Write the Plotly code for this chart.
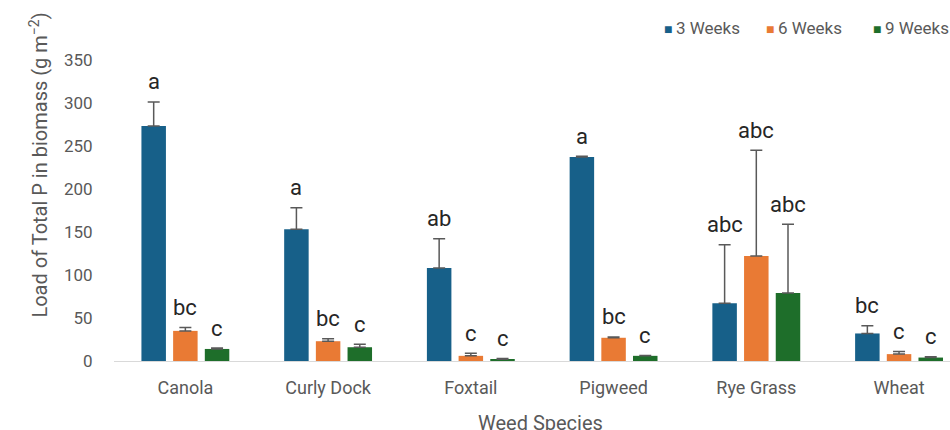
import plotly.graph_objects as go

# Weed species and total P load in biomass (g m^-2) at each harvest time
species = ["Canola", "Curly Dock", "Foxtail", "Pigweed", "Rye Grass", "Wheat"]

weeks3 = [273, 153, 108, 237, 67, 32]
weeks3_err = [28, 25, 34, 1, 68, 9]
weeks3_letters = ["a", "a", "ab", "a", "abc", "bc"]

weeks6 = [35, 23, 6, 27, 122, 8]
weeks6_err = [4, 3, 3, 1, 123, 3]
weeks6_letters = ["bc", "bc", "c", "bc", "abc", "c"]

weeks9 = [14, 16, 2, 6, 79, 4]
weeks9_err = [1, 3.5, 1, 0.5, 80, 1]
weeks9_letters = ["c", "c", "c", "c", "abc", "c"]

y_ticks = [0, 50, 100, 150, 200, 250, 300, 350]

series = [
    ("3 Weeks", weeks3, weeks3_err, weeks3_letters, "#176089"),
    ("6 Weeks", weeks6, weeks6_err, weeks6_letters, "#E97A34"),
    ("9 Weeks", weeks9, weeks9_err, weeks9_letters, "#1E6E2A"),
]

FONT = "Roboto"
TICK_GREY = "#595959"
BARGAP = 0.334
slot = (1 - BARGAP) / len(series)

fig = go.Figure()
annotations = []

for i, (name, vals, errs, letters, color) in enumerate(series):
    fig.add_trace(go.Bar(
        name=name,
        x=species,
        y=vals,
        marker=dict(color=color, line=dict(width=0)),
        error_y=dict(
            type="data", array=errs, arrayminus=[0] * len(errs),
            symmetric=False, color=TICK_GREY, thickness=1.5, width=6,
        ),
        showlegend=False,
    ))
    offset = (i - (len(series) - 1) / 2) * slot
    for j, (v, e, lab) in enumerate(zip(vals, errs, letters)):
        annotations.append(dict(
            x=j + offset, y=v + e, xref="x", yref="y",
            text=lab, showarrow=False, yanchor="middle", yshift=20,
            font=dict(family=FONT, size=22, color="#262626"),
        ))

# Legend row across the top
legend_x = [0.656, 0.778, 0.905]
for (name, _, _, _, color), lx in zip(series, legend_x):
    annotations.append(dict(
        x=lx, y=1.018, xref="paper", yref="paper",
        xanchor="left", yanchor="middle", showarrow=False,
        text=f'<span style="color:{color};font-size:14px">■</span>\u2009{name}',
        font=dict(family=FONT, size=17, color=TICK_GREY),
    ))

# Axis titles
annotations.append(dict(
    x=-0.09, y=0.6, xref="paper", yref="paper", textangle=-90,
    showarrow=False, xanchor="center", yanchor="middle",
    text="Load of Total P in biomass (g m<sup>−2</sup>)",
    font=dict(family=FONT, size=20, color=TICK_GREY),
))
annotations.append(dict(
    x=0.5105, y=-0.19, xref="paper", yref="paper",
    showarrow=False, xanchor="center", yanchor="middle",
    text="Weed Species",
    font=dict(family=FONT, size=20, color=TICK_GREY),
))

fig.update_layout(
    width=950, height=430,
    margin=dict(l=114, r=0, t=34, b=69),
    paper_bgcolor="white", plot_bgcolor="white",
    barmode="group", bargap=BARGAP, bargroupgap=0.227,
    font=dict(family=FONT, color=TICK_GREY),
    annotations=annotations,
    xaxis=dict(
        type="category", range=[-0.5, 5.357],
        showline=True, linecolor="#D9D9D9", linewidth=1,
        ticks="outside", ticklen=10, tickcolor="rgba(0,0,0,0)",
        tickfont=dict(family=FONT, size=18, color=TICK_GREY),
        showgrid=False, zeroline=False,
    ),
    yaxis=dict(
        range=[0, 380], tickvals=y_ticks,
        showline=False, showgrid=False, zeroline=False,
        ticks="outside", ticklen=17, tickcolor="rgba(0,0,0,0)",
        tickfont=dict(family=FONT, size=17, color=TICK_GREY),
    ),
)

fig.write_html("out.html")
